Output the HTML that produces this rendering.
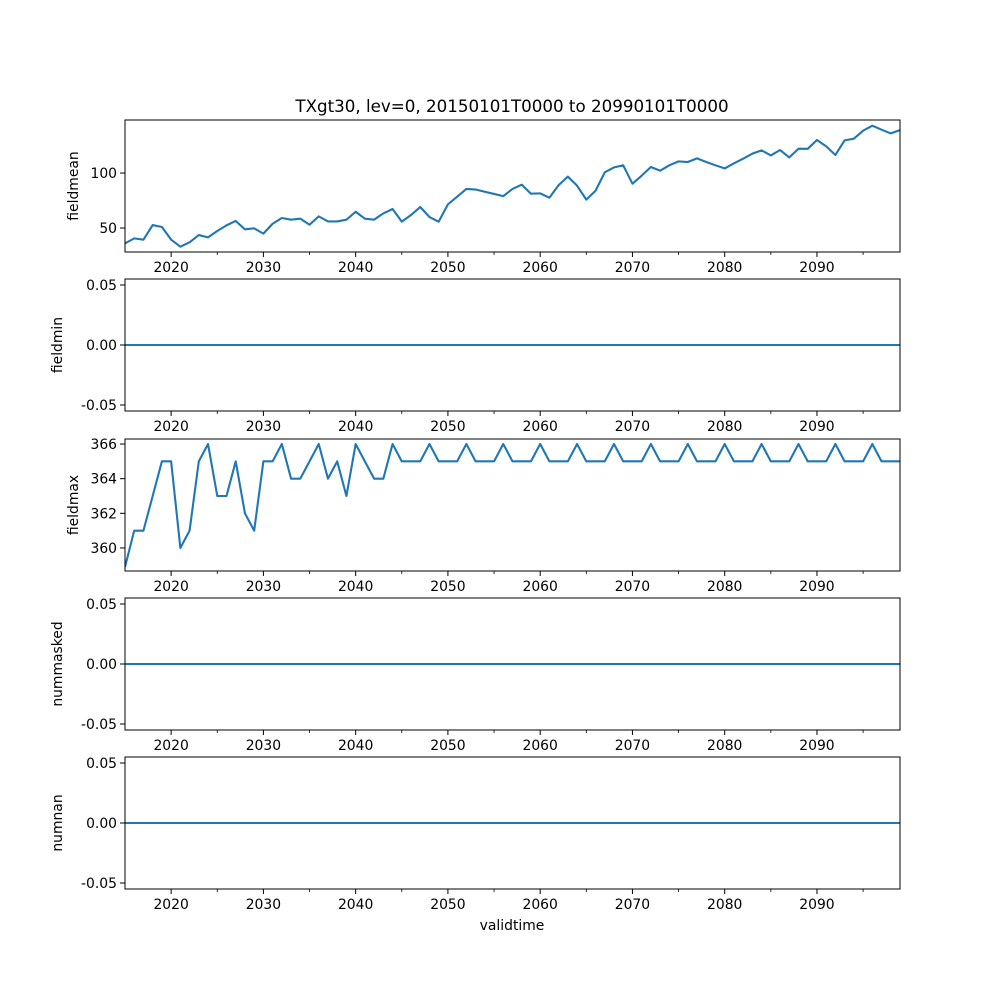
<!DOCTYPE html>
<html><head><meta charset="utf-8"><style>
body{margin:0;background:#fff}
svg text{font-family:"DejaVu Sans","Liberation Sans",sans-serif;fill:#000}
</style></head><body>
<svg id="fig" width="1000" height="1000" xmlns="http://www.w3.org/2000/svg"></svg>
<script>
const years = [];
for (let y = 2015; y <= 2099; y++) years.push(y);
const fieldmean = [36,40.6,39.4,52.7,50.9,39.4,33,37,43.6,41.5,47.3,52.4,56.4,48.8,49.7,44.9,53.9,59.1,57.6,58.5,53,60.6,56,56,57.6,64.8,58.5,57.6,63.3,67.3,55.8,61.8,69.1,60,55.8,71.5,78.5,85.5,85,83,81,79,85.5,89.4,81.2,81.5,77.6,89,96.7,88.5,75.8,83.9,100.6,105.1,107,90.3,97.6,105.5,102.1,107,110.6,110,113.3,110,107,104.2,108.8,113,117.6,120.6,116,120.9,114.2,122.1,122,130,124.2,116.4,129.7,131.2,138.5,143,139.4,136,139];
const fieldmin = years.map(()=>0);
const fieldmax = [358.9,361,361,363,365,365,360,361,365,366,363,363,365,362,361,365,365,366,364,364,365,366,364,365,363,366,365,364,364,366,365,365,365,366,365,365,365,366,365,365,365,366,365,365,365,366,365,365,365,366,365,365,365,366,365,365,365,366,365,365,365,366,365,365,365,366,365,365,365,366,365,365,365,366,365,365,365,366,365,365,365,366,365,365,365];
const nummasked = years.map(()=>0);
const numnan = years.map(()=>0);
const xTicks = [2020,2030,2040,2050,2060,2070,2080,2090];
const xMinor = [2025,2035,2045,2055,2065,2075,2085,2095];

const NS="http://www.w3.org/2000/svg";
const svg=document.getElementById('fig');
function mk(tag,attrs,parent){const e=document.createElementNS(NS,tag);for(const k in attrs)e.setAttribute(k,attrs[k]);(parent||svg).appendChild(e);return e;}
const L=125,R=900,X0=2015,X1=2099;
const xs=v=>L+(v-X0)/(X1-X0)*(R-L);

const panels=[
 {name:'fieldmean',data:fieldmean,top:120,bot:252,y0:28.2,y1:148.2,ticks:[50,100],fmt:v=>String(v),lx:78},
 {name:'fieldmin',data:fieldmin,top:279,bot:411,y0:-0.055,y1:0.055,ticks:[-0.05,0,0.05],fmt:v=>v.toFixed(2),lx:62},
 {name:'fieldmax',data:fieldmax,top:439,bot:571,y0:358.67,y1:366.29,ticks:[360,362,364,366],fmt:v=>String(v),lx:78},
 {name:'nummasked',data:nummasked,top:598,bot:730,y0:-0.055,y1:0.055,ticks:[-0.05,0,0.05],fmt:v=>v.toFixed(2),lx:62},
 {name:'numnan',data:numnan,top:757,bot:889,y0:-0.055,y1:0.055,ticks:[-0.05,0,0.05],fmt:v=>v.toFixed(2),lx:62}
];

const t=mk('text',{x:512,y:112,'font-size':16.7,'text-anchor':'middle'});


t.textContent='TXgt30, lev=0, 20150101T0000 to 20990101T0000';

panels.forEach(p=>{
  const g=mk('g',{});
  
  
  const ys=v=>p.bot-(v-p.y0)/(p.y1-p.y0)*(p.bot-p.top);
  const pts=p.data.map((v,i)=>xs(years[i]).toFixed(2)+','+ys(v).toFixed(2)).join(' ');
  const cp='clip-'+p.name;
  const c=mk('clipPath',{id:cp},g);mk('rect',{x:L,y:p.top,width:R-L,height:p.bot-p.top},c);
  const line=mk('polyline',{points:pts,fill:'none',stroke:'#1f77b4','stroke-width':2.1,'stroke-linejoin':'round','clip-path':'url(#'+cp+')'},g);
  
  
  const fr=mk('rect',{x:L,y:p.top,width:R-L,height:p.bot-p.top,fill:'none',stroke:'#000','stroke-width':1},g);
  
  
  xTicks.forEach(v=>{
    const x=xs(v);
    mk('line',{x1:x,x2:x,y1:p.bot,y2:p.bot+5,stroke:'#000','stroke-width':1},g);
    const tl=mk('text',{x:x,y:p.bot+20,'font-size':13.9,'text-anchor':'middle'},g);
    
    
    tl.textContent=v;
  });
  xMinor.forEach(v=>{const x=xs(v);mk('line',{x1:x,x2:x,y1:p.bot,y2:p.bot+3,stroke:'#000','stroke-width':0.8},g);});
  p.ticks.forEach(v=>{
    const y=ys(v);
    mk('line',{x1:L-5,x2:L,y1:y,y2:y,stroke:'#000','stroke-width':1},g);
    const tl=mk('text',{x:L-8,y:y+5,'font-size':13.9,'text-anchor':'end'},g);
    
    
    tl.textContent=p.fmt(v);
  });
  const my=(p.top+p.bot)/2;
  const yl=mk('text',{x:p.lx,y:my,'font-size':13.9,'text-anchor':'middle',transform:'rotate(-90 '+p.lx+' '+my+')'},g);
  
  
  yl.textContent=p.name;
});
const xl=mk('text',{x:512,y:930,'font-size':13.9,'text-anchor':'middle'});


xl.textContent='validtime';
</script>
</body></html>
